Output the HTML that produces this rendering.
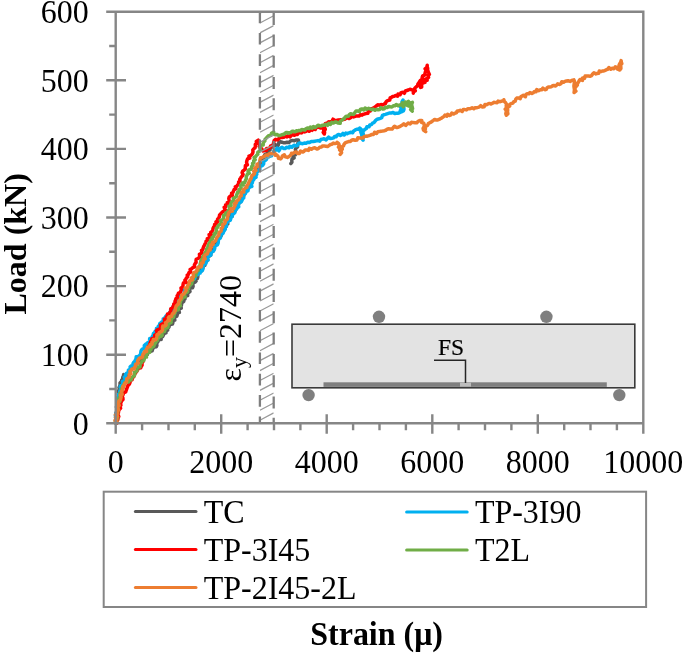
<!DOCTYPE html>
<html><head><meta charset="utf-8"><title>Load-strain chart</title>
<style>html,body{margin:0;padding:0;background:#fff;}svg{display:block;}</style></head>
<body><svg width="685" height="653" viewBox="0 0 685 653">
<rect width="685" height="653" fill="#fff"/>
<path d="M115.8 423.3 L115.8 421.8 L116.2 420.4 L117.2 419 L116.3 417.4 L116.5 415.9 L116.8 414.5 L116 412.9 L116.9 411.5 L117.3 410 L117.8 408.6 L116.4 407 L117.1 405.6 L116.7 404.1 L118.5 402.9 L118.4 401.4 L117.1 399.8 L119.4 398.6 L119.6 397.2 L119.1 395.6 L119.3 394 L118.5 392.4 L118.4 390.8 L119.8 389.5 L119 387.8 L119.7 386.2 L120.1 384.7 L120 383 L121.4 381.6 L121.7 380 L123 378.9 L122.7 377.3 L123.5 376 L123.6 374.5 L125.8 376.7 L126.3 375.3 L126.8 373.9 L128.9 373.8 L129.9 372.6 L130.6 371.2 L131.4 369.9 L131.7 368.1 L132.5 366.9 L133.6 365.8 L134.3 364.3 L136.4 364.4 L136.8 362.8 L138.6 362.6 L138.8 360.8 L140.7 360.7 L141.6 359.6 L141.2 357.2 L142.7 356.4 L145 356.5 L145.6 354.6 L147.5 354.4 L147.9 352.3 L148.8 350.9 L150.6 351.3 L152.1 350.9 L152.6 349.3 L153.1 347.9 L154.4 347 L156.4 346.7 L156.9 345.3 L156.5 343.2 L157.6 342.2 L158.2 340.9 L159 339.6 L161.2 339.5 L160.9 337.4 L162.6 336.7 L163.4 335.2 L164 333.5 L166 332.9 L165.9 330.8 L167.7 330.2 L167.5 328.2 L168.9 327.3 L169.3 325.7 L170.3 324.5 L172.4 324.1 L172.9 322.6 L172.8 320.7 L174.8 320 L174.2 318 L175.3 316.9 L176.9 316.1 L177.3 314.6 L176.9 312.6 L179.4 312.4 L178.6 310.2 L179.5 308.9 L181.3 308.2 L180.9 306.4 L181.5 305.1 L181.6 303.6 L182.2 302.4 L183.8 301.5 L183.7 299.9 L185 299 L185.1 297.5 L185.9 296.2 L187.7 295.6 L187.6 293.7 L188.6 292.5 L190 291.5 L189.4 289.4 L190.2 288.1 L192.5 287.7 L193.1 286.3 L192.8 284.4 L193.3 283 L195 282.2 L196.1 281.1 L195.2 279.1 L197.3 278.5 L197.8 277.2 L197.9 275.6 L198.1 274.1 L198.2 272.4 L198.9 271 L201.6 270.9 L201.2 268.6 L203 267.9 L203 266 L204.9 265.4 L205.1 263.8 L205.3 262.2 L205.7 260.7 L207.6 260 L207 258 L208 256.9 L209.4 256 L210.7 255 L210.9 253.4 L210.9 251.8 L212.9 251.2 L212.1 249.1 L212.3 247.6 L213.5 246.6 L214.6 245.5 L214.4 243.8 L215.3 242.6 L216.5 241.5 L217.6 240.4 L217.4 238.6 L218.6 237.5 L220.4 236.8 L221.3 235.5 L221.4 233.8 L222.2 232.5 L222.7 231.1 L222.5 229.3 L223 227.9 L223.7 226.6 L226.2 226.4 L226.5 224.8 L227.8 223.9 L226.6 221.5 L228.6 220.9 L229 219.5 L230.2 218.5 L230.2 216.7 L232.3 216.3 L231.3 213.9 L233 213.2 L234.1 212.1 L235.2 211 L235.7 209.6 L236.4 208.2 L237.4 207 L238.4 205.8 L238 203.8 L239.5 202.9 L240.7 201.8 L241.4 200.4 L241.3 198.6 L242.8 197.7 L243.7 196.4 L243.9 194.9 L244.7 193.7 L244.9 192.2 L246.1 191.2 L246.8 190 L246.5 188.2 L248.3 187.6 L249.8 186.8 L250.3 185.4 L250.7 183.9 L250.6 182.1 L252 181.1 L252.4 179.6 L252.8 178.1 L254.3 177.1 L253.5 174.9 L255.5 174.3 L254.7 172.1 L256.6 171.2 L257.1 169.7 L257.3 168 L259 167.1 L259.3 165.4 L260.2 164.1 L261.7 163.2 L261.2 161 L261.5 159.4 L262.9 158.4 L264.5 157.6 L264.4 155.6 L265.2 154.2 L267.5 153.8 L267.9 152.1 L268.4 150.4 L270.1 150 L270.1 148 L271.6 147.4 L272 145.4 L273.5 145.2 L275.1 145.3 L275.2 144.5 L276 145.7 L277.3 146.4 L278.4 144.7 L278.9 142.4 L280.3 141.7 L282 142.2 L283.8 142.8 L285.5 142.7 L287.1 142.2 L288.9 142.6 L290.6 140.9 L292.4 140.4 L294.3 140.8 L295.9 140 L298.4 140 L298.6 142.3 L297.7 143.6 L297.6 145.2 L297.6 146.9 L296 148.1 L295.4 149.3 L295.8 151.4 L295.9 153.3 L295.3 154.9 L292.8 155.7 L294.1 157.9 L292.1 158.9 L291.8 160.5 L291.9 162.2 L290.9 163.6" stroke="#595959" stroke-width="3.5" fill="none" stroke-linejoin="round" stroke-linecap="round"/>
<path d="M116 423.3 L116 421.8 L116.6 420.3 L116.7 418.7 L115.6 417.1 L115.4 415.6 L116.3 414.1 L116.2 412.6 L117.5 411.1 L117.3 409.6 L117.2 408 L117.4 406.5 L117.9 405.1 L116.9 403.4 L117.9 402 L117.5 400.4 L119.4 399.2 L117.7 397.3 L119.7 396.2 L118.4 394.3 L120.1 393.2 L119.7 391.6 L120.2 390.2 L121.5 389 L120.1 387.2 L120.6 385.6 L123 385 L122.7 383.2 L122.4 381.4 L124.9 380.8 L125.4 379.4 L124.3 377.2 L125.6 376.1 L125.7 374.4 L126.7 373.1 L128.3 372 L128.4 370 L130.4 369.2 L130.1 367 L131.1 365.9 L133.1 365.4 L133 363.7 L133.7 362.4 L134.8 361.4 L135.4 360 L136.1 358.6 L136.2 356.8 L138.4 356.4 L139.7 355.4 L140.6 354.1 L140.8 352.4 L141.1 350.7 L142 349.4 L143.5 348.7 L144.4 347.5 L144.3 345.5 L145.4 344.5 L146.6 343.6 L147.8 342.6 L149.3 341.9 L149.6 340.2 L149.7 338.4 L152.1 338.3 L152.2 336.5 L153.1 335.3 L153.4 333.6 L154.6 332.5 L155.3 331.1 L156.9 330.5 L156.5 328.4 L158.1 327.9 L158.3 326.2 L160.1 325.7 L159.7 323.7 L161 322.8 L162 321.7 L163.4 321 L163.2 319 L164.8 318.4 L165.3 316.9 L166.3 315.8 L167.6 314.9 L169.3 314.4 L169.4 312.6 L171.1 312 L170.6 309.8 L172.9 309.7 L172.7 307.7 L173.2 306.3 L175.1 305.9 L176.2 305 L175.3 302.6 L176.6 301.8 L178.3 301.3 L178.3 299.6 L178.9 298.3 L179.3 296.8 L180.1 295.7 L182 295.3 L183.5 294.6 L184.3 293.4 L184.2 291.6 L184.1 289.8 L185.5 289 L187.1 288.5 L188 287.4 L188.5 286 L188.5 284.2 L189.9 283.4 L190.7 282.2 L191.9 281.2 L192.1 279.5 L194.2 279.2 L195 277.9 L194.5 275.7 L195.7 274.6 L197.7 274.8 L198 272.8 L200.1 273.1 L200.7 271.4 L202.2 270.7 L202.9 269.3 L202.6 267.4 L203.5 266 L204.1 264.6 L205.7 263.6 L206.4 262.2 L205.9 260.4 L208.1 260 L207.8 258.2 L208.1 256.8 L209.2 255.8 L210.9 255.2 L210.9 253.4 L211.9 252.2 L213.3 251.2 L214.2 250 L214.7 248.4 L214.8 246.7 L216 245.6 L217.4 244.7 L218.1 243.2 L218.3 241.7 L218.4 240.2 L219.1 238.9 L220.4 238 L220.7 236.5 L220.2 234.7 L222.2 234.1 L223.2 233 L223.6 231.6 L224.5 230.4 L225.3 229.2 L225.2 227.4 L226.5 226.4 L226.4 224.7 L226.5 223.1 L227.8 222 L228.4 220.7 L230.3 220.2 L230.7 218.7 L231.2 217.3 L232.2 216.3 L232.1 214.4 L233.7 213.8 L234.8 212.8 L235 211.3 L235.6 209.9 L236.7 208.9 L237.3 207.7 L238.7 206.8 L238.2 205 L238.8 203.6 L239.8 202.6 L241.3 201.7 L242 200.4 L242.5 199 L243.7 198 L243.1 196.1 L243.4 194.5 L245.1 193.9 L245.8 192.7 L246.2 191.2 L248 190.7 L248.2 189.1 L248.9 187.8 L249.9 186.7 L251.9 186.4 L250.9 184.2 L252.2 183.2 L252.5 181.8 L252.9 180.4 L254 179.3 L254.1 177.8 L256.1 177.2 L255.8 175.5 L256.8 174.4 L256.2 172.5 L257.6 171.5 L258.7 170.3 L259.9 169.2 L259.5 167.2 L261 166.1 L262.7 165.3 L263.7 163.8 L263.6 161.6 L265.1 160.5 L266.5 159.4 L266.9 157.4 L268.5 157.1 L269.7 156.3 L271.5 155.9 L271.9 153.9 L273.3 152.8 L274 150.9 L275.9 150.1 L277.1 148.1 L278 149.7 L278.9 150.8 L279.7 149.6 L280.3 148.3 L282.1 147.2 L283.6 148.5 L285 148.6 L286.5 147.2 L289 147.8 L290 146.2 L291.9 147.2 L293 146.1 L294.2 145.2 L295.9 145.8 L297.3 145.5 L298.3 143.8 L299.6 142.9 L301.3 143.6 L302.7 143.7 L304.4 143 L306.1 143.2 L307.8 142.2 L309.5 142.5 L311.3 141.4 L313.1 141.5 L314.9 141.2 L316.5 140.9 L318 140.6 L319.7 141.2 L320.9 139.5 L322.5 139.1 L324 138.8 L326.1 139.9 L327.3 138.5 L328.6 137.1 L330.5 138.6 L332 138.3 L333.7 137.9 L334.6 136.4 L336.3 136.7 L337.2 135.2 L338.4 134.4 L340.4 135.4 L341.4 134.9 L342.9 133.4 L344.3 135 L345.8 133 L347.2 133.7 L348.2 133.1 L349.6 132.8 L350.9 132.2 L352.7 132.7 L353.5 131.2 L354.6 130.4 L355.9 129.6 L357.3 129.1 L359.2 129.5 L359.8 128.1 L361.5 129.7 L360.8 132.1 L361.4 133.6 L361.8 135.2 L361.9 136.9 L361.8 138.5 L363.1 140.2 L362.6 138.6 L363 137.1 L362.8 135.5 L363.3 134.1 L362.9 132.5 L363.2 130.9 L364.7 129.6 L366.3 128.6 L366.9 126.7 L369.1 126.8 L369.7 125 L371.5 124.6 L372.5 123.2 L373.9 122.7 L374.9 121.4 L375.9 120.1 L377.2 119.2 L378.8 118.8 L380.3 118.3 L381.7 117.7 L382.4 115.4 L383.8 114.8 L385.4 114.4 L386.9 113.9 L388.4 113.4 L389.9 112.9 L391.7 112.9 L393.1 112.4 L394.7 113.6 L396.1 113.2 L398 113.3 L400 112.2 L400.4 110.4 L401.6 109 L400.4 106.9 L401.1 105.2 L402.9 103.7 L402 101.9 L403 100 L402.2 102.2 L403.4 104 L403.2 105.7 L403.8 107.3 L404 109.3 L403.3 111 L401.4 111.8 L399.5 112.8" stroke="#00B0F0" stroke-width="3.5" fill="none" stroke-linejoin="round" stroke-linecap="round"/>
<path d="M116.8 423.3 L116.5 421.5 L117.8 419.8 L118 418.1 L118.8 416.5 L117.8 414.5 L118.4 412.9 L118.6 411.2 L119.1 409.7 L120.6 408.3 L119.7 406.4 L120.9 405.2 L120.6 403.6 L121.1 402.2 L121.8 400.8 L123 399.6 L122.9 398 L122 396.1 L123.1 394.7 L123.5 393 L125.7 391.9 L126.2 390.3 L126.8 388.6 L127.5 386.9 L128 385.3 L129.4 384.1 L130.1 382.4 L130 380.2 L132.1 379.7 L132.3 377.9 L133.7 376.9 L134.2 375.4 L134.9 373.9 L135.8 372.5 L136.9 371.3 L137.7 369.8 L138.3 368.3 L140.7 367.8 L141.2 366.5 L142.1 365.3 L142 363.8 L142.3 362.4 L143.2 361.3 L142.5 359.4 L144.2 358.6 L144.2 357.1 L144.2 355.6 L144.8 354.3 L146 353.3 L146 351.8 L147 350.7 L148 349.5 L148.1 348.1 L148.2 346.5 L149.6 345.6 L149.7 344 L150.3 342.8 L150.8 341.4 L151.8 340.3 L151.8 338.8 L153.6 338.1 L155 337.1 L154.7 335.1 L156.1 334.2 L157.4 333.1 L156.4 330.7 L157.4 329.7 L159.4 329.3 L160.3 328.2 L160.6 326.8 L160.5 325 L161.8 324.2 L163.4 323.6 L164.2 322.4 L164.8 321.2 L164.4 319.2 L166.5 318.7 L166.4 316.8 L167.8 316 L167.5 314 L169.9 313.7 L170 311.9 L171 310.8 L170.8 308.9 L172.4 308 L173 306.7 L173.7 305.4 L173.8 303.9 L175.2 303 L175 301.3 L175.6 300 L175.9 298.5 L177.6 297.8 L177.1 295.9 L178 294.7 L178.4 293.2 L180.2 292.6 L180.7 291.2 L181.4 289.8 L181 288 L182.5 287.1 L183 285.7 L183.1 284.2 L183.5 282.8 L186.2 282.5 L184.9 280.3 L185.9 279.2 L186.4 277.9 L187.7 276.9 L187.2 275.1 L188.6 274.2 L188.9 272.7 L190.7 272 L190.1 269.6 L191.6 268.7 L192.8 267.6 L194.7 266.8 L194.4 265 L195 263.7 L196.1 262.6 L196 260.9 L196.2 259.3 L197.8 258.5 L199.4 257.6 L199.7 256.2 L199.4 254.3 L201 253.5 L202 252.4 L201.5 250.4 L202.9 249.5 L203.2 247.9 L203.7 246.5 L204.4 245.3 L205 243.9 L206 242.7 L206 241.1 L207.4 240.2 L207.3 238.6 L209.4 238 L209.7 236.6 L209.1 234.7 L211.3 234.2 L210.7 232.3 L212 231.3 L212.8 230.1 L213 228.5 L213.6 227.2 L214.6 226 L214.6 224.4 L216.8 223.9 L216 221.8 L218.1 221.2 L217.5 219.3 L218.5 218.1 L219.4 216.9 L219.5 215.1 L220.5 214 L221.7 212.9 L222.7 211.7 L224.3 210.9 L225.3 209.8 L224.2 207.4 L225.8 206.6 L225.6 204.9 L227.7 204.3 L227.3 202.6 L229.1 201.9 L229.1 200.2 L228.8 198.5 L229.2 197.1 L230.4 196 L232.4 195.4 L231.6 193.3 L233 192.4 L233.5 191 L234.1 189.6 L235.8 188.8 L235.3 186.9 L237 186.1 L237.6 184.8 L238.8 183.7 L238.6 182 L240 181.1 L239.7 179.3 L240.6 178.2 L241.3 176.9 L242.4 175.8 L243.1 174.6 L242.1 172.6 L242.7 171.2 L244.1 170.1 L245.3 168.9 L245.3 167.3 L245.4 165.7 L247.4 164.8 L246.6 162.8 L246.7 161.3 L247.2 160 L247.7 158.7 L249.8 158.1 L249 156.2 L250.9 155.5 L251.8 154.4 L252.7 153.2 L253 151.7 L252.8 149.9 L253.9 148.8 L255 147.7 L255.4 146.2 L255.3 144.4 L256.9 143.5 L256.3 141.4 L258.2 140.2 L257.3 142.3 L259 143.4 L260 144.9 L259.2 146.5 L260.4 147.7 L261.7 148.8 L261.4 149.5 L263 151 L264.3 150.3 L266.3 150.6 L266.7 148.4 L268.7 148.6 L269.9 147.8 L270.6 146 L272.9 145.9 L273.3 144.1 L273.7 142.3 L274.2 140.6 L275.6 139.3 L277.5 139.9 L278.9 138.6 L280.3 137.4 L282 137.5 L283.7 137.3 L285.2 136.3 L286.9 136.9 L288.1 135.4 L290 136.9 L291.2 135.2 L292.5 134.8 L294.4 135.2 L295.5 134 L297.4 134.6 L298.4 133.2 L299.8 132.6 L301.5 132.9 L302.7 131.2 L304.6 131.9 L306.1 131.3 L307.5 130.5 L309.3 131.3 L310.2 128.8 L312.2 130.3 L313.3 128.4 L315.2 129.5 L316.3 127.6 L317.8 126.9 L319.6 127.5 L320.9 128 L324.2 127.4 L323.8 129.1 L323.7 130.8 L324.6 132.4 L324.3 134.1 L323.2 132.4 L324.4 130.8 L325.3 129.3 L324.5 127.6 L324.5 125.6 L325.3 123.7 L327.5 122.9 L328.7 121.7 L330.7 122.2 L332 121.2 L333 119.2 L334.8 120.5 L336.2 120.4 L337.6 120.1 L339 120.1 L340.4 119.7 L341.8 119.7 L343.2 119.5 L344.6 119.3 L345.8 118.5 L347.2 117.7 L349.2 118.6 L350.6 117.8 L351.7 116.2 L353.6 117 L355.1 116.4 L356.4 115.9 L357.9 116.1 L359.3 116 L360.4 114.6 L362 115.2 L363.2 114.2 L364.7 114 L365.9 113.4 L367.9 113.2 L368.4 111.3 L370.4 111.1 L370.7 109 L372.4 108.5 L373.7 108 L375.1 107 L376.4 105.9 L377.7 104.8 L379.5 105.2 L381 104.6 L383 104.9 L384.1 104 L385.5 103.6 L386 101.8 L387.1 100.9 L388.4 100.4 L389.8 100 L390.1 97.9 L391.5 97.3 L392.7 96.5 L394.2 96.2 L395.5 95.5 L397.5 96.2 L398.1 94 L400.1 94.8 L400.9 92.9 L402.3 92.2 L404.4 93.3 L405.3 90.9 L406.8 90.5 L408.3 90 L409.9 89.3 L412.2 89.9 L413.6 91.4 L413.3 93.2 L413.4 91.7 L415.3 90.8 L414.4 89 L415.2 87.8 L416.4 86.7 L417.5 85.8 L417.9 84.1 L418.9 82.7 L419.7 81.3 L420.6 80.2 L422 79.4 L422.2 77.4 L422.7 75.9 L424.5 75.1 L425 73.6 L425.3 72.1 L426.2 70.6 L425.1 68.8 L426.9 67.3 L427.2 65.3 L427.2 66.9 L427.7 68.4 L427.6 69.7 L428.3 72.1 L429.4 74.4 L428 75.4 L428.6 77.4 L427.1 78.2 L427.2 80.3 L425.2 80.6 L425.1 82.4 L422.8 83 L421.6 84.4 L421.7 87 L420.6 87.4 L420.3 85.3 L421.3 84.1 L421.8 82.5 L423.4 81.6 L423.8 79.8 L425.5 79" stroke="#FF0000" stroke-width="3.5" fill="none" stroke-linejoin="round" stroke-linecap="round"/>
<path d="M116 423.3 L115.3 421.7 L116.8 420.4 L116.8 418.9 L117.7 417.5 L116.3 415.9 L116.4 414.4 L117.7 413 L117.7 411.5 L117.1 409.9 L118.2 408.6 L117.8 407 L118.9 405.6 L117.6 403.9 L118.1 402.4 L119.9 401.2 L118.9 399.4 L119 397.9 L120.6 396.7 L120.6 395.1 L120 393.3 L121.3 392 L121.9 390.6 L121.3 388.6 L123.2 387.7 L123 385.6 L124.3 384.3 L124.9 382.2 L126.3 381.5 L128.7 381.9 L129.1 379.8 L131.2 379.9 L131.7 377.9 L132.8 376.8 L134.2 375.9 L134.7 374.3 L134.4 372.3 L136.2 371.6 L137.1 370.4 L137 368.6 L137.7 367.2 L140 366.9 L140.1 365.1 L140.3 363.5 L141.6 362.5 L142 360.9 L143.9 360.5 L144.2 359 L144.3 357.3 L146.5 357.1 L146 354.9 L147.2 354 L147.6 352.5 L149.7 352.3 L149.4 350.2 L151 349.6 L151 347.9 L152.5 347.2 L153.7 346.3 L154.2 345 L154.8 343.7 L155.7 342.6 L156.3 341.3 L157.4 340.4 L157.2 338.6 L158.8 337.9 L159.2 336.4 L161.2 336.2 L162.2 335.2 L161.5 332.9 L162.5 331.9 L164.4 331.6 L164.9 330.2 L164.7 328.3 L166.8 328.1 L168 327.2 L167.9 325.4 L168.5 324.1 L169.7 323.2 L171.2 322.5 L170.8 320.5 L171.6 319.4 L172 318 L173.6 317.1 L173.9 315.7 L174.2 314.1 L175.1 313 L175 311.3 L176.3 310.3 L178.3 309.7 L178.2 308 L178.3 306.4 L180.3 305.8 L179.8 303.9 L180.3 302.5 L180.6 300.9 L181.5 299.8 L182.3 298.5 L183.1 297.3 L185.1 296.7 L184.4 294.8 L185 293.4 L186.4 292.5 L187.7 291.5 L187 289.6 L188.6 288.8 L188.5 287.1 L189.5 286 L190.2 284.7 L191.6 283.8 L191.9 282.3 L192 280.7 L193.4 279.8 L193.1 278 L193.8 276.7 L195.6 276 L195.4 274.2 L196.6 273.2 L196.3 271.4 L198.2 270.7 L198.3 269.1 L198.3 267.3 L200.4 266.7 L200 265 L200.3 263.6 L200.7 262.2 L200.9 260.7 L201.6 259.5 L203.2 258.7 L202.6 256.9 L203.4 255.7 L204.4 254.5 L205.2 253.3 L205.5 251.9 L207 251 L206.5 249.2 L207.3 248 L208.1 246.7 L208.1 245.1 L208.9 243.9 L209.4 242.5 L211.2 241.8 L210.6 240 L212.3 239.2 L212.1 237.5 L213.6 236.6 L214.2 235.3 L214.2 233.7 L216.1 233 L216.1 231.5 L216.6 230.1 L216.3 228.2 L217.7 227.3 L218.1 225.8 L219.2 224.8 L220.8 224 L221.4 222.6 L220.4 220.4 L222.4 219.8 L223.6 218.8 L223.6 217.1 L223.5 215.2 L225.8 214.8 L225.7 213 L227.6 212.4 L228.2 210.9 L228.9 209.6 L229.9 208.4 L228.9 206.1 L231.1 205.7 L230.9 203.8 L231.3 202.3 L232.5 201.3 L233.7 200.3 L233.3 198.3 L234.9 197.5 L236.4 196.6 L236.5 195 L237.3 193.7 L237.6 192.2 L239.6 191.6 L238.9 189.5 L240.5 188.7 L241.1 187.4 L240.6 185.3 L243.3 185.1 L242.4 183 L244.7 182.5 L245.2 181.2 L245.8 179.8 L246.4 178.5 L246.2 176.7 L246.9 175.4 L247.4 174 L249.3 173.3 L248 171.1 L248.8 169.9 L251.2 169.3 L251.4 167.8 L251.8 166.3 L253 165.2 L252.6 163.4 L253.9 162.4 L253.7 160.7 L255.2 159.7 L254.1 157.5 L255.6 156.6 L256.6 155.3 L257.8 154.2 L257.8 152.4 L259.1 151.3 L260.4 150.3 L260 148.3 L260.4 146.8 L260.8 145.3 L263.2 145 L263.2 143.3 L263.8 141.8 L264.9 140.9 L265.1 139.2 L266.2 138.2 L267.2 137 L268.7 135.6 L271 135.2 L271.5 133.2 L273.7 132 L273.8 134.4 L275.5 134.7 L276.7 134.4 L279.2 135.7 L280.8 135.2 L282.3 134.6 L283.9 134.4 L285.3 133.1 L286.6 132.4 L288.2 133.3 L289.5 132.7 L290.9 132.6 L292.1 131.2 L293.5 131.3 L295 131.8 L296.3 130.8 L297.8 131 L299.1 130.4 L300.6 130.8 L301.8 129.6 L303.2 129.7 L304.8 130.1 L305.9 128.7 L307.3 128 L309.1 128.6 L310.3 127.1 L312.2 128.3 L313.4 126.6 L315.2 127.6 L316.5 126.5 L317.9 125.3 L319.6 125.8 L321.2 125.9 L322.7 125.2 L324.3 125.2 L325.7 124.3 L327.5 125.3 L328.7 123.3 L330.5 124.4 L331.7 122.3 L333.4 123.1 L334.9 122 L336.4 122.1 L338 123 L340.2 123.3 L340.2 121.3 L341.4 120.4 L342.6 119.5 L344.1 118.7 L345.1 117.2 L346.4 116.2 L348.4 116.2 L349.3 114.6 L350.6 113.7 L352.4 114.2 L353.9 114.2 L354.9 112.5 L356 111 L357.6 111 L359.6 111.6 L360.3 109.5 L361.9 108.9 L363.8 109.9 L365.1 108 L366.8 109.3 L368.7 108.3 L370.3 109 L371.8 109.8 L373.2 109.1 L375 110.3 L376.4 109.3 L378.1 109.8 L379.6 109.5 L380.9 107.6 L382.8 109 L384.3 108.7 L385.5 107.1 L387.2 107.6 L388.6 106.4 L390.3 106.8 L391.9 107 L393.3 105.8 L394.9 105.8 L396.2 104.5 L398.1 105.8 L399.5 104.9 L401.2 105 L402.2 102.9 L404.1 103.9 L405.1 102 L406.9 102.6 L408.4 101.4 L409.8 103.2 L412.4 102.4 L411.7 104 L411.8 105.5 L412.2 107 L412.6 108.6 L411 109.7 L412.2 111.1 L410.6 109.5 L411.6 107.6 L410.4 106.4 L408.6 106 L407 105.1 L405.3 104.5 L404.1 105.4 L403.2 106.7 L403.3 104.8 L404.9 104.4 L406.1 102.4 L408.1 102.8 L410 104" stroke="#70AD47" stroke-width="3.5" fill="none" stroke-linejoin="round" stroke-linecap="round"/>
<path d="M115.9 423.3 L117.1 422 L115 420.4 L116.7 419.1 L115.5 417.6 L117.5 416.3 L115.4 414.7 L117.5 413.5 L117.1 412.1 L117.9 410.9 L118.6 409.6 L117.4 407.8 L118 406.5 L119.1 405.3 L118.4 403.6 L118.7 402.2 L118.9 400.8 L120.5 399.6 L120.8 398.3 L121.1 396.9 L120.3 395.1 L122.2 394.3 L121.8 392.6 L121.6 391.1 L122.6 389.9 L123 388.5 L122.7 386.8 L124.2 385.8 L124.2 384.3 L125.1 383.1 L126.6 382 L126.7 380.3 L126.8 378.7 L128.5 377.8 L129.4 376.6 L129.2 374.7 L130.9 373.9 L129.9 371.5 L131 370.4 L131.9 369.1 L134.2 368.9 L134.5 367.4 L135.4 366.3 L135.5 364.5 L136.7 363.6 L138.3 363 L137.6 360.8 L138.5 359.6 L139.2 358.4 L140.8 357.7 L142.3 357.1 L142.6 355.5 L143.1 354.1 L144.1 353.1 L144.4 351.5 L146.6 351.4 L146.3 349.4 L147.1 348.1 L148.1 347 L150 346.6 L150 344.7 L152 344.3 L151.9 342.3 L153 341.3 L153.3 339.6 L155.7 339.7 L156.5 338.3 L156.8 336.5 L157 334.8 L158.6 333.9 L159.3 332.5 L161.1 331.7 L162.1 330.7 L162.6 329.3 L162.5 327.5 L162.8 326 L165.2 326 L166.1 324.9 L165.5 322.7 L166.9 321.9 L167.7 320.7 L169.4 320.2 L168.4 317.8 L169.3 316.7 L171.6 316.5 L171.9 315 L172.5 313.7 L173.9 312.9 L174.3 311.5 L175.3 310.5 L175.3 308.8 L175.7 307.5 L176.2 306 L177.4 304.9 L178.7 303.7 L178.7 302 L179.3 300.5 L180.5 299.3 L181.2 297.9 L181.6 296.4 L181.8 294.8 L183.7 294.1 L184.4 292.8 L185.4 291.6 L186.2 290.3 L185.3 287.9 L187.4 287.4 L187.6 285.7 L188.5 284.5 L189.3 283.3 L189.2 281.7 L190 280.5 L192.2 279.9 L191.4 277.9 L193.2 277.2 L193.4 275.7 L193.2 274 L193.9 272.6 L195.4 272 L196.6 271 L197.1 269.3 L197.7 267.8 L198.9 266.9 L201.2 266.7 L201.6 265.2 L201 263.3 L203.1 262.7 L203.2 261.2 L203.4 259.6 L205.2 258.9 L204.2 256.8 L204.8 255.5 L206 254.4 L207.5 253.6 L207.9 252.1 L208.6 250.7 L210.2 249.9 L210 248 L211.5 247.1 L210.8 244.9 L213.1 244.5 L212.6 242.5 L214.4 241.8 L215.6 240.7 L216.1 239.2 L216.8 237.8 L217.6 236.5 L218.8 235.5 L218.9 233.7 L219.5 232.3 L220.9 231.4 L221.4 230 L221.1 228.4 L222.5 227.4 L222.9 226.1 L222.8 224.5 L224.5 223.7 L225.2 222.4 L224.8 220.8 L226.4 220 L227.5 218.9 L227.6 217.2 L228 215.6 L228.5 214.1 L229 212.6 L230.1 211.5 L232.4 211.1 L231.3 208.7 L233.8 208.4 L234.2 206.8 L235.1 205.7 L234.5 203.6 L236.4 202.9 L236.3 201.1 L237.9 200.4 L238.9 199.2 L239.6 197.8 L240 196.3 L241.4 195.6 L241 193.6 L241.6 192.3 L243.8 192.1 L243 189.9 L244.5 189.2 L245.3 188 L246.9 187.4 L246.8 185.6 L247.9 184.7 L248.4 183.3 L249 182 L249.7 180.7 L250.3 179.4 L251.2 178.2 L251.5 176.7 L252.2 175.4 L253.8 174.6 L254.6 173.4 L253.8 171.3 L255.9 170.6 L254.7 168.3 L256 167.2 L257.8 166.4 L257 164.3 L258.6 163.5 L259.9 162.5 L259.8 160.8 L260.1 159.3 L260.6 157.7 L262.3 157.5 L263.4 156.6 L264.7 156.4 L266 154.9 L268 155.2 L269.3 153.7 L271.3 153.6 L272.8 153.2 L274.8 152.9 L275 155.2 L276.9 155.1 L278.1 156.4 L278.5 158.4 L280.6 158.9 L281.7 157.7 L282.4 156 L284.3 154.8 L285.4 156.9 L287.4 157.4 L288.7 156.7 L289.9 155.8 L291 154.8 L291.5 153.3 L292.9 153.4 L294.4 152.5 L296 151.9 L297.6 153.4 L299.4 153.5 L300.5 151.1 L302.9 152 L304.1 151.2 L305.2 149.9 L306.8 150.1 L308.4 150.4 L309.4 148.3 L311.4 149.3 L313.1 148.1 L314.7 147.7 L316.9 149 L318.4 148.5 L319.7 147.3 L321.2 147.1 L322.6 146 L324.2 145.9 L325.8 146.2 L327.6 146.5 L329 145.6 L330.3 144.5 L332 144.2 L333.3 143.1 L335 143.6 L336.5 143.3 L337.1 142.3 L338.7 143.6 L339.2 145.3 L338.4 147.2 L340 148.4 L339.6 150 L341.2 151.3 L341.4 152.8 L340.2 154.3 L341.6 152.7 L341 150.7 L342.3 149.1 L341.7 147 L343.6 145.7 L344 144.3 L345.2 142.8 L346.9 142.1 L348.5 141.6 L350.3 141.5 L351.6 140.2 L353.2 139.7 L355.2 140.3 L356.9 140 L357.8 137.8 L359.6 138.1 L361.2 137.9 L363 138 L364.2 136.6 L365.8 136.1 L367.4 136.2 L369 135.7 L370.5 135.1 L371.9 134.4 L373.6 134.4 L374.6 132.2 L376.6 133.4 L377.8 131.7 L379.4 131.6 L381 131.2 L382.6 131 L384.2 130.7 L385.7 130.3 L387.1 129.2 L388.6 128.8 L390.4 129 L392.1 129.1 L393.3 127.5 L394.5 126.2 L396.6 127.6 L398.2 127.2 L399.7 126.6 L401.1 125.7 L402.5 124.9 L403.8 123.8 L405.7 125.4 L407 124.1 L408.4 123 L410.2 123.9 L411.5 122.2 L413.3 122.6 L415.1 122.7 L416.8 122.7 L418.2 121.3 L419.7 120.5 L421.8 120.5 L421.5 122.4 L423.7 123.2 L424.3 124.8 L424.1 126.6 L423.1 128.4 L423.5 130 L425.7 131.7 L424 129.9 L425.4 128.8 L424.9 127.2 L426.1 126.1 L427.7 125.2 L428.4 123.5 L429.8 122.7 L431.1 122.1 L432.2 121.2 L433.4 120.4 L434.6 119.5 L436.3 120 L437.8 119.9 L439.1 119.4 L440.3 118.7 L441.6 118.1 L442.8 117.2 L444 116.4 L445 115.1 L446.9 116.1 L447.7 114.3 L449.6 115.4 L450.9 114.8 L451.8 113.1 L453.6 114 L454.8 113.2 L456.3 112.9 L457.3 110.9 L458.8 110.9 L460.2 110.2 L462.2 111.5 L463.2 109.6 L464.8 109.6 L466.4 109.9 L467.7 108.7 L469.3 108.8 L470.7 108.5 L472.1 107.7 L473.8 108.7 L475.1 107.8 L476.6 107.7 L478.1 107.4 L479.5 106.9 L480.7 105.6 L482.5 107 L484.1 106.8 L485 104.5 L486.6 104.7 L488 103.9 L489.4 103.4 L491.1 104 L492.5 103.3 L493.8 102.3 L495.5 102.6 L497.1 102.7 L498.1 101.1 L500.2 101.7 L501.8 101.1 L503.6 101 L503.9 99.8 L504.3 101.4 L505.7 102.8 L506.6 104.3 L506.2 106 L506.7 107.5 L505.2 109.2 L506.4 110.6 L506.1 112.2 L505.8 113.8 L506.3 115.3 L507.9 113.8 L507.5 111.8 L507.7 110.1 L507.4 108.3 L508.2 106.9 L509.8 105.9 L509.9 104.2 L511.3 103.5 L512.9 103.1 L513.8 101.7 L515.2 101.1 L515.8 99.2 L516.8 98 L518.3 97.9 L520.2 98.7 L520.9 96.8 L522.1 96 L523.3 95.3 L525.4 96.7 L526 94.5 L527.2 93.7 L528.9 93.7 L530 92.5 L531.9 93.4 L533.3 92.7 L534.4 91.6 L536.1 91.7 L536.8 89.6 L538.9 90.7 L540.1 89.8 L541.6 89.8 L542.9 88.2 L544.9 89.7 L546.3 89.3 L547.2 87.7 L548.4 86.9 L549.9 86.9 L551.4 86.8 L552.5 85.8 L553.9 85.5 L555.6 86 L556.7 85 L557.8 83.8 L559.5 84.5 L560.9 83.8 L561.8 81.7 L563.6 82.3 L564.9 81.4 L566.4 81 L568.1 80.7 L570.1 81.4 L571.7 80.5 L573.9 79.8 L574.5 81.3 L574.4 82.9 L574.1 84.4 L573.9 86 L574.1 87.6 L574.4 89.3 L574.3 91 L574.1 92.5 L575.9 91.2 L574.6 89.2 L575.3 87.6 L576.3 86.2 L577.4 85.1 L577.3 83.3 L578.4 82.4 L579.1 80.8 L580 79.5 L582.5 80.4 L582.5 77.9 L584.6 78.3 L585.1 76 L586.8 76 L588.4 76 L590.2 76.3 L591.6 75.6 L592.6 74 L593.9 72.8 L595.9 73.9 L597.2 73.4 L598.7 73.3 L599.3 71 L601 71.6 L602.3 71 L603.8 71 L605.1 70.4 L606.3 69.7 L607.5 69.4 L608.9 67.5 L610.7 69.3 L612.2 68.3 L613.9 68.8 L615.3 66.9 L617 67.5 L617.4 69.1 L620 69.8 L619.6 68.2 L620.6 67 L619.1 65.1 L619.7 63.6 L620.7 62.1 L621.1 60.6 L621.3 62.1 L621.8 63.6 L620.6 64.6 L620.8 66.7 L620.9 68.6 L619.5 70" stroke="#ED7D31" stroke-width="3.5" fill="none" stroke-linejoin="round" stroke-linecap="round"/>
<g id="band">
<clipPath id="bc"><rect x="259.9" y="11.7" width="13.800000000000011" height="411.6"/></clipPath>
<path clip-path="url(#bc)" d="M259.9 -6.8 L273.7 -14.1 M259.9 3.1 L273.7 -4.2 M259.9 13.1 L273.7 5.8 M259.9 23 L273.7 15.7 M259.9 32.9 L273.7 25.6 M259.9 42.9 L273.7 35.6 M259.9 52.8 L273.7 45.5 M259.9 62.7 L273.7 55.4 M259.9 72.7 L273.7 65.4 M259.9 82.6 L273.7 75.3 M259.9 92.5 L273.7 85.2 M259.9 102.4 L273.7 95.1 M259.9 112.4 L273.7 105.1 M259.9 122.3 L273.7 115 M259.9 132.2 L273.7 124.9 M259.9 142.2 L273.7 134.9 M259.9 152.1 L273.7 144.8 M259.9 162 L273.7 154.7 M259.9 171.9 L273.7 164.6 M259.9 181.9 L273.7 174.6 M259.9 191.8 L273.7 184.5 M259.9 201.7 L273.7 194.4 M259.9 211.7 L273.7 204.4 M259.9 221.6 L273.7 214.3 M259.9 231.5 L273.7 224.2 M259.9 241.5 L273.7 234.2 M259.9 251.4 L273.7 244.1 M259.9 261.3 L273.7 254 M259.9 271.2 L273.7 263.9 M259.9 281.2 L273.7 273.9 M259.9 291.1 L273.7 283.8 M259.9 301 L273.7 293.7 M259.9 311 L273.7 303.7 M259.9 320.9 L273.7 313.6 M259.9 330.8 L273.7 323.5 M259.9 340.8 L273.7 333.5 M259.9 350.7 L273.7 343.4 M259.9 360.6 L273.7 353.3 M259.9 370.6 L273.7 363.2 M259.9 380.5 L273.7 373.2 M259.9 390.4 L273.7 383.1 M259.9 400.3 L273.7 393 M259.9 410.3 L273.7 403 M259.9 420.2 L273.7 412.9 M259.9 430.1 L273.7 422.8" stroke="#9a9a9a" stroke-width="1.3" fill="none"/>
<line x1="259.9" y1="11.7" x2="259.9" y2="423.3" stroke="#7f7f7f" stroke-width="2.3" stroke-dasharray="11.6 9.7"/>
<line x1="273.7" y1="11.7" x2="273.7" y2="423.3" stroke="#7f7f7f" stroke-width="2.3" stroke-dasharray="12 9.3" stroke-dashoffset="19.9"/>
</g>
<path d="M106.2 11.7 H643.3 V433.8 M115.7 11.7 V433.8 M106.2 423.3 H643.3 M106.2 423.3 H126 M109.2 389 H115.7 M106.2 354.7 H126 M109.2 320.4 H115.7 M106.2 286.1 H126 M109.2 251.8 H115.7 M106.2 217.5 H126 M109.2 183.2 H115.7 M106.2 148.9 H126 M109.2 114.6 H115.7 M106.2 80.3 H126 M109.2 46 H115.7 M106.2 11.7 H126 M115.7 414.3 V433.8 M142.1 423.3 V430.3 M168.5 423.3 V430.3 M194.8 423.3 V430.3 M221.2 414.3 V433.8 M247.6 423.3 V430.3 M274 423.3 V430.3 M300.4 423.3 V430.3 M326.7 414.3 V433.8 M353.1 423.3 V430.3 M379.5 423.3 V430.3 M405.9 423.3 V430.3 M432.3 414.3 V433.8 M458.6 423.3 V430.3 M485 423.3 V430.3 M511.4 423.3 V430.3 M537.8 414.3 V433.8 M564.2 423.3 V430.3 M590.5 423.3 V430.3 M616.9 423.3 V430.3 M643.3 414.3 V433.8" stroke="#868686" stroke-width="2.4" fill="none"/>
<text transform="translate(88.8 434.6) scale(1 1.04)" text-anchor="end" font-size="32" font-family="Liberation Serif, Times New Roman, serif" >0</text>
<text transform="translate(88.8 366) scale(1 1.04)" text-anchor="end" font-size="32" font-family="Liberation Serif, Times New Roman, serif" >100</text>
<text transform="translate(88.8 297.4) scale(1 1.04)" text-anchor="end" font-size="32" font-family="Liberation Serif, Times New Roman, serif" >200</text>
<text transform="translate(88.8 228.8) scale(1 1.04)" text-anchor="end" font-size="32" font-family="Liberation Serif, Times New Roman, serif" >300</text>
<text transform="translate(88.8 160.2) scale(1 1.04)" text-anchor="end" font-size="32" font-family="Liberation Serif, Times New Roman, serif" >400</text>
<text transform="translate(88.8 91.6) scale(1 1.04)" text-anchor="end" font-size="32" font-family="Liberation Serif, Times New Roman, serif" >500</text>
<text transform="translate(88.8 23) scale(1 1.04)" text-anchor="end" font-size="32" font-family="Liberation Serif, Times New Roman, serif" >600</text>
<text transform="translate(115.7 472.6) scale(1 1.04)" text-anchor="middle" font-size="32" font-family="Liberation Serif, Times New Roman, serif" >0</text>
<text transform="translate(221.2 472.6) scale(1 1.04)" text-anchor="middle" font-size="32" font-family="Liberation Serif, Times New Roman, serif" >2000</text>
<text transform="translate(326.7 472.6) scale(1 1.04)" text-anchor="middle" font-size="32" font-family="Liberation Serif, Times New Roman, serif" >4000</text>
<text transform="translate(432.3 472.6) scale(1 1.04)" text-anchor="middle" font-size="32" font-family="Liberation Serif, Times New Roman, serif" >6000</text>
<text transform="translate(537.8 472.6) scale(1 1.04)" text-anchor="middle" font-size="32" font-family="Liberation Serif, Times New Roman, serif" >8000</text>
<text transform="translate(643.3 472.6) scale(1 1.04)" text-anchor="middle" font-size="32" font-family="Liberation Serif, Times New Roman, serif" >10000</text>
<g>
<rect x="292" y="324.2" width="342.8" height="63.6" fill="#e3e3e3" stroke="#3a3a3a" stroke-width="1.6"/>
<rect x="323.5" y="382.3" width="283.3" height="4.6" fill="#7f7f7f"/>
<rect x="460" y="382.6" width="11" height="4" fill="#bdbdbd"/>
<circle cx="379" cy="316.8" r="6.2" fill="#7f7f7f"/>
<circle cx="546.4" cy="316.8" r="6.2" fill="#7f7f7f"/>
<circle cx="308.6" cy="395.1" r="6.2" fill="#7f7f7f"/>
<circle cx="619.3" cy="395.1" r="6.2" fill="#7f7f7f"/>
<path d="M434 360.3 H465.5 V383" stroke="#262626" stroke-width="1.5" fill="none"/>
<text transform="translate(451 354.9) scale(1 1.0)" text-anchor="middle" font-size="23.5" font-family="Liberation Serif, Times New Roman, serif" stroke="#000" stroke-width="0.2">FS</text>
</g>
<text transform="translate(241.3 381.5) rotate(-90)" font-size="32" font-family="Liberation Serif, Times New Roman, serif">&#949;<tspan font-size="22" dy="5">y</tspan><tspan dy="-5">=2740</tspan></text>
<text transform="translate(25.5 243.8) rotate(-90)" text-anchor="middle" font-size="32" font-weight="bold" font-family="Liberation Serif, Times New Roman, serif">Load (kN)</text>
<text transform="translate(376.6 645) scale(1 1.04)" text-anchor="middle" font-size="32" font-family="Liberation Serif, Times New Roman, serif" font-weight="bold">Strain (&#956;)</text>
<rect x="103.7" y="491.7" width="542.4" height="115.3" fill="none" stroke="#868686" stroke-width="2"/>
<line x1="135.4" y1="511.5" x2="196" y2="511.5" stroke="#595959" stroke-width="3" stroke-linecap="round"/>
<text transform="translate(203.7 522.5) scale(1 1.04)" text-anchor="start" font-size="32" font-family="Liberation Serif, Times New Roman, serif" >TC</text>
<line x1="135.4" y1="549.5" x2="196" y2="549.5" stroke="#FF0000" stroke-width="3" stroke-linecap="round"/>
<text transform="translate(203.7 560.5) scale(1 1.04)" text-anchor="start" font-size="32" font-family="Liberation Serif, Times New Roman, serif" >TP-3I45</text>
<line x1="135.4" y1="587.5" x2="196" y2="587.5" stroke="#ED7D31" stroke-width="3" stroke-linecap="round"/>
<text transform="translate(203.7 598.5) scale(1 1.04)" text-anchor="start" font-size="32" font-family="Liberation Serif, Times New Roman, serif" >TP-2I45-2L</text>
<line x1="406.6" y1="511.9" x2="467.2" y2="511.9" stroke="#00B0F0" stroke-width="3" stroke-linecap="round"/>
<text transform="translate(474.9 522.9) scale(1 1.04)" text-anchor="start" font-size="32" font-family="Liberation Serif, Times New Roman, serif" >TP-3I90</text>
<line x1="406.6" y1="549.9" x2="467.2" y2="549.9" stroke="#70AD47" stroke-width="3" stroke-linecap="round"/>
<text transform="translate(474.9 560.9) scale(1 1.04)" text-anchor="start" font-size="32" font-family="Liberation Serif, Times New Roman, serif" >T2L</text>
</svg></body></html>
